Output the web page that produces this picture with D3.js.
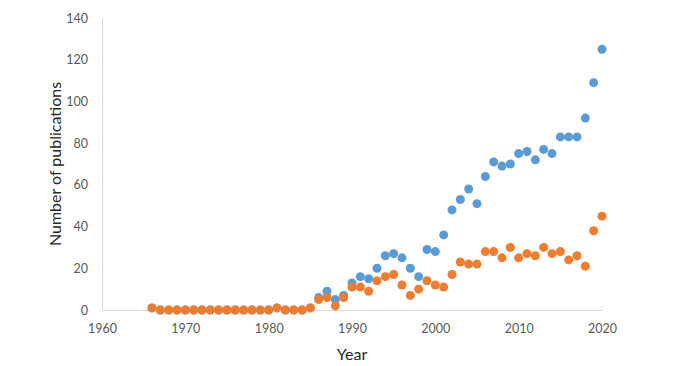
<!DOCTYPE html>
<html>
<head>
<meta charset="utf-8">
<script src="https://cdn.jsdelivr.net/npm/d3@7"></script>
<style>
  body { margin: 0; background: #fff; }
  svg text { font-family: Lato, "Open Sans", sans-serif; }
</style>
</head>
<body>
<div id="chart"></div>
<script>
// années et séries
const years = d3.range(1966, 2021)
const orange = [1, 0, 0, 0, 0, 0, 0, 0, 0, 0, 0, 0, 0, 0, 0, 1, 0, 0, 0, 1,
  5, 6, 2, 6, 11, 11, 9, 14, 16, 17, 12, 7, 10, 14, 12, 11, 17, 23, 22, 22,
  28, 28, 25, 30, 25, 27, 26, 30, 27, 28, 24, 26, 21, 38, 45]
const blue = [1, 0, 0, 0, 0, 0, 0, 0, 0, 0, 0, 0, 0, 0, 0, 1, 0, 0, 0, 1,
  6, 9, 5, 7, 13, 16, 15, 20, 26, 27, 25, 20, 16, 29, 28, 36, 48, 53, 58, 51,
  64, 71, 69, 70, 75, 76, 72, 77, 75, 83, 83, 83, 92, 109, 125]
const xTicks = [1960, 1970, 1980, 1990, 2000, 2010, 2020]
const yTicks = [0, 20, 40, 60, 80, 100, 120, 140]

const W = 676, H = 366
const margin = { top: 18, right: 74, bottom: 56, left: 102 },
  width = W - margin.left - margin.right,
  height = H - margin.top - margin.bottom

const svg = d3.select("#chart").append("svg")
  .attr("width", W)
  .attr("height", H)

const g = svg.append("g")
  .attr("transform", "translate(" + margin.left + "," + margin.top + ")")

const x = d3.scaleLinear().domain([1960, 2020]).range([0, width])
const y = d3.scaleLinear().domain([0, 140]).range([height, 0])

/* axes: lignes grises, pas de graduations */
const xAxis = g.append("g")
  .attr("transform", "translate(0," + height + ")")
  .call(d3.axisBottom(x).tickValues(xTicks).tickFormat(d3.format("d")).tickSize(0).tickPadding(14))
xAxis.select(".domain").attr("stroke", "#d9d9d9")
xAxis.selectAll("text").attr("fill", "#595959").attr("font-size", 12.5)

const yAxis = g.append("g")
  .call(d3.axisLeft(y).tickValues(yTicks).tickSize(0).tickPadding(14))
yAxis.select(".domain").attr("stroke", "#d9d9d9")
yAxis.selectAll("text").attr("fill", "#595959").attr("font-size", 12.5)

/* points */
const series = [
  { values: blue, color: "#5b9bd5" },
  { values: orange, color: "#ed7d31" }
]
series.forEach(s => {
  g.append("g")
    .selectAll("circle")
    .data(years.map((yr, i) => ({ yr: yr, v: s.values[i] })))
    .join("circle")
    .attr("cx", d => x(d.yr))
    .attr("cy", d => y(d.v))
    .attr("r", 4.5)
    .attr("fill", s.color)
})

/* titres des axes */
svg.append("text")
  .attr("x", margin.left + width / 2)
  .attr("y", 360)
  .attr("text-anchor", "middle")
  .attr("font-size", 16)
  .attr("fill", "#262626")
  .text("Year")

svg.append("text")
  .attr("transform", "translate(61," + (margin.top + height / 2) + ") rotate(-90)")
  .attr("text-anchor", "middle")
  .attr("font-size", 16)
  .attr("fill", "#262626")
  .text("Number of publications")
</script>
</body>
</html>
